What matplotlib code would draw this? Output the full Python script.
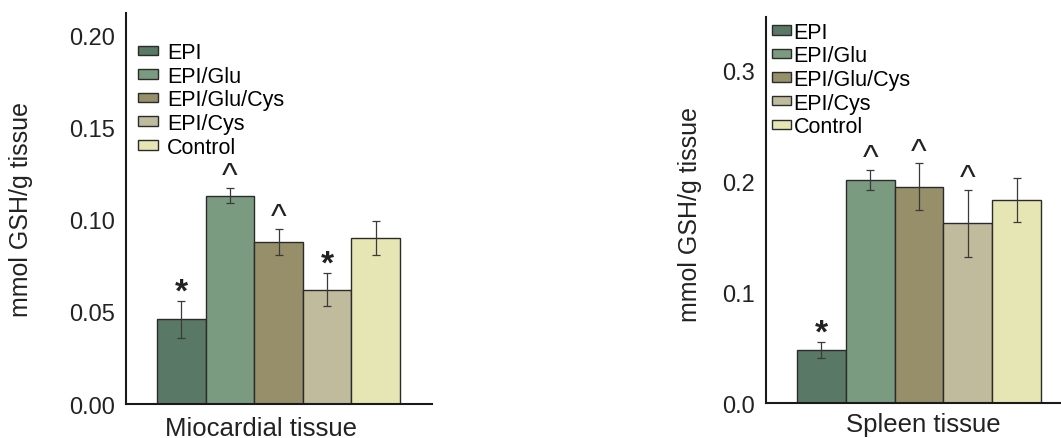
import numpy as np
import matplotlib
matplotlib.use("Agg")
import matplotlib.pyplot as plt

plt.rcParams['font.family'] = ['Liberation Sans', 'DejaVu Sans']

# data
groups = ["EPI", "EPI/Glu", "EPI/Glu/Cys", "EPI/Cys", "Control"]
colors = ["#5a7866", "#7b9b80", "#978f69", "#bfbb9c", "#e5e6b4"]

myo_vals = [0.046, 0.113, 0.088, 0.062, 0.090]
myo_err = [0.010, 0.004, 0.007, 0.009, 0.009]
myo_marks = ["*", "^", "^", "*", ""]

spl_vals = [0.048, 0.201, 0.195, 0.162, 0.183]
spl_err = [0.007, 0.009, 0.021, 0.030, 0.020]
spl_marks = ["*", "^", "^", "^", ""]

fig = plt.figure(figsize=(10.61, 4.39), dpi=100)
ax1 = fig.add_axes([0.1188, 0.0774, 0.2884, 0.891])
ax2 = fig.add_axes([0.722, 0.0797, 0.278, 0.879])


def draw(ax, vals, errs, marks, xlab, ylim, yticks, ticklabels, xlim,
         leg_anchor, leg_pad, xlab_pos, ylab_pos):
    x = np.arange(len(vals))
    for i in range(len(vals)):
        ax.bar(x[i], vals[i], width=1.0, color=colors[i], edgecolor="#2b2b2b",
               linewidth=1.0, label=groups[i], zorder=2)
    ax.errorbar(x, vals, yerr=errs, fmt="none", ecolor="#3a3a3a",
                elinewidth=0.9, capsize=3, capthick=0.9, zorder=3)
    for i, m in enumerate(marks):
        if not m:
            continue
        if m == "*":
            ax.annotate(m, (x[i], vals[i] + errs[i]), xytext=(0, -5),
                        textcoords="offset points", ha="center", va="bottom",
                        fontsize=24, fontweight="bold", color="#222222")
        else:
            ax.annotate(m, (x[i], vals[i] + errs[i]), xytext=(0, -3),
                        textcoords="offset points", ha="center", va="bottom",
                        fontsize=24, color="#222222")
    ax.set_xlim(*xlim)
    ax.set_ylim(*ylim)
    ax.set_yticks(yticks)
    ax.set_yticklabels(ticklabels, fontsize=17, color="#222222")
    ax.set_xticks([])
    ax.tick_params(axis="y", length=0, pad=8)
    for s in ["top", "right"]:
        ax.spines[s].set_visible(False)
    for s in ["left", "bottom"]:
        ax.spines[s].set_linewidth(1.5)
        ax.spines[s].set_color("#1a1a1a")
    ax.set_xlabel(xlab, fontsize=18.5, color="#222222")
    ax.xaxis.set_label_coords(*xlab_pos)
    ax.set_ylabel("mmol GSH/g tissue", fontsize=18, color="#222222")
    ax.yaxis.set_label_coords(*ylab_pos)
    ax.legend(loc="upper left", bbox_to_anchor=leg_anchor, frameon=False,
              fontsize=15.5, handlelength=0.9, handleheight=0.3,
              handletextpad=leg_pad, labelspacing=0.12, borderaxespad=0,
              borderpad=0)


draw(ax1, myo_vals, myo_err, myo_marks, "Miocardial tissue",
     (0, 0.212), [0.0, 0.05, 0.10, 0.15, 0.20],
     ["0.00", "0.05", "0.10", "0.15", "0.20"],
     (-1.14, 5.16), (0.04, 0.925), 0.45, (0.441, -0.03), (-0.304, 0.5))

draw(ax2, spl_vals, spl_err, spl_marks, "Spleen tissue",
     (0, 0.348), [0.0, 0.1, 0.2, 0.3],
     ["0.0", "0.1", "0.2", "0.3"],
     (-1.135, 4.91), (0.02, 0.988), 0.1, (0.532, -0.022), (-0.217, 0.49))

fig.savefig("out.png", dpi=100, facecolor="white")
